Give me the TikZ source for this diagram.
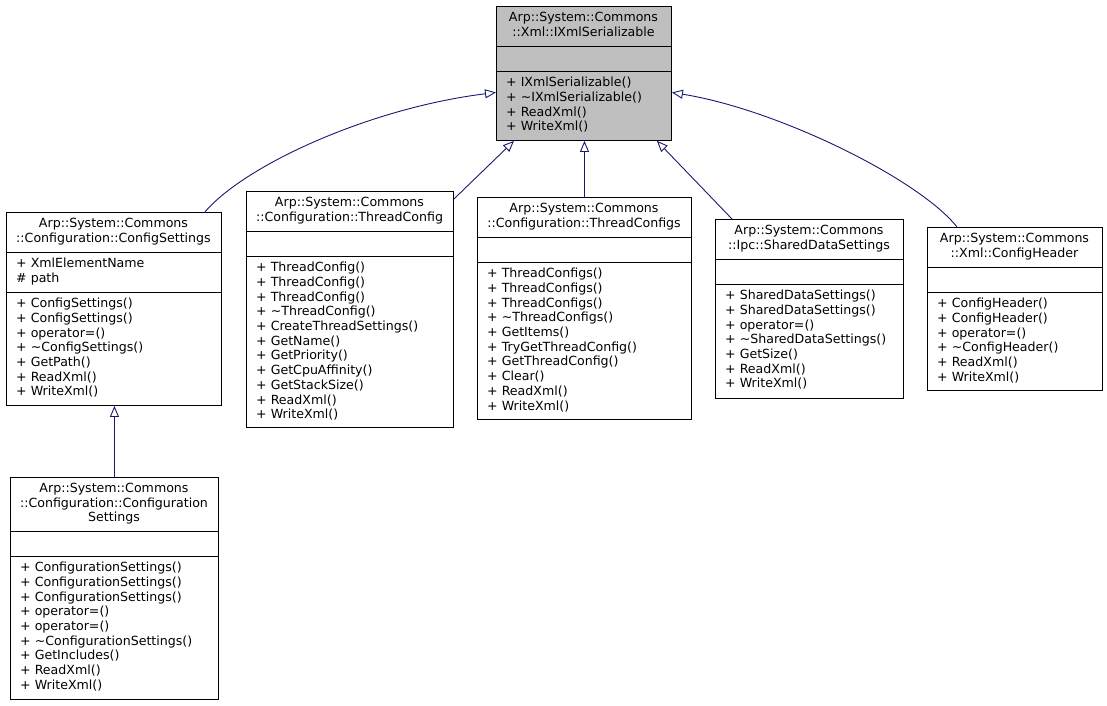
\documentclass[tikz,border=0pt]{standalone}
\usepackage{fontspec}
\setmainfont{DejaVu Sans}
\usetikzlibrary{arrows.meta}
\definecolor{edgeblue}{HTML}{191970}
\definecolor{basegray}{HTML}{BFBFBF}
\newcommand\umlfont{\fontsize{12.6}{14.7}\selectfont}

\begin{document}
\begin{tikzpicture}[x=1pt,y=-1pt,font=\umlfont,
    umlbox/.style={draw=black, line width=0.9pt, fill=white, inner sep=0pt, anchor=north west},
    sepline/.style={draw=black, line width=0.9pt},
    ttl/.style={anchor=north, inner sep=0pt, align=center},
    txt/.style={anchor=north west, inner sep=0pt, align=left},
    inherit/.style={draw=edgeblue, line width=0.9pt, -{Triangle[open, length=11pt, width=9pt]}}]
  \useasboundingbox (0,0) rectangle (1107,705);

  % Base class
  \node[umlbox, fill=basegray, minimum width=175, minimum height=134] (ix) at (496,6) {};
  \draw[sepline] (496,46) -- (671,46);
  \draw[sepline] (496,71) -- (671,71);
  \node[ttl] (ix-t) at (583.5,12) {Arp::System::Commons\\::Xml::IXmlSerializable};
  \node[txt] (ix-m) at (506,77) {+ IXmlSerializable()\\+ \textasciitilde IXmlSerializable()\\+ ReadXml()\\+ WriteXml()};

  % ConfigSettings
  \node[umlbox, minimum width=215, minimum height=193] (cfg) at (6,212) {};
  \draw[sepline] (6,252) -- (221,252);
  \draw[sepline] (6,292) -- (221,292);
  \node[ttl] (cfg-t) at (113.5,218) {Arp::System::Commons\\::Configuration::ConfigSettings};
  \node[txt] (cfg-a) at (16,258) {+ XmlElementName\\\# path};
  \node[txt] (cfg-m) at (16,298) {+ ConfigSettings()\\+ ConfigSettings()\\+ operator=()\\+ \textasciitilde ConfigSettings()\\+ GetPath()\\+ ReadXml()\\+ WriteXml()};

  % ThreadConfig
  \node[umlbox, minimum width=207, minimum height=236] (tc) at (246,191) {};
  \draw[sepline] (246,231) -- (453,231);
  \draw[sepline] (246,256) -- (453,256);
  \node[ttl] (tc-t) at (349.5,197) {Arp::System::Commons\\::Configuration::ThreadConfig};
  \node[txt] (tc-m) at (256,262) {+ ThreadConfig()\\+ ThreadConfig()\\+ ThreadConfig()\\+ \textasciitilde ThreadConfig()\\+ CreateThreadSettings()\\+ GetName()\\+ GetPriority()\\+ GetCpuAffinity()\\+ GetStackSize()\\+ ReadXml()\\+ WriteXml()};

  % ThreadConfigs
  \node[umlbox, minimum width=214, minimum height=222] (tcs) at (477,197) {};
  \draw[sepline] (477,237) -- (691,237);
  \draw[sepline] (477,262) -- (691,262);
  \node[ttl] (tcs-t) at (584,203) {Arp::System::Commons\\::Configuration::ThreadConfigs};
  \node[txt] (tcs-m) at (487,268) {+ ThreadConfigs()\\+ ThreadConfigs()\\+ ThreadConfigs()\\+ \textasciitilde ThreadConfigs()\\+ GetItems()\\+ TryGetThreadConfig()\\+ GetThreadConfig()\\+ Clear()\\+ ReadXml()\\+ WriteXml()};

  % SharedDataSettings
  \node[umlbox, minimum width=188, minimum height=179] (sds) at (715,219) {};
  \draw[sepline] (715,259) -- (903,259);
  \draw[sepline] (715,284) -- (903,284);
  \node[ttl] (sds-t) at (809,225) {Arp::System::Commons\\::Ipc::SharedDataSettings};
  \node[txt] (sds-m) at (725,290) {+ SharedDataSettings()\\+ SharedDataSettings()\\+ operator=()\\+ \textasciitilde SharedDataSettings()\\+ GetSize()\\+ ReadXml()\\+ WriteXml()};

  % ConfigHeader
  \node[umlbox, minimum width=175, minimum height=163] (ch) at (927,227) {};
  \draw[sepline] (927,267) -- (1102,267);
  \draw[sepline] (927,292) -- (1102,292);
  \node[ttl] (ch-t) at (1014.5,233) {Arp::System::Commons\\::Xml::ConfigHeader};
  \node[txt] (ch-m) at (937,298) {+ ConfigHeader()\\+ ConfigHeader()\\+ operator=()\\+ \textasciitilde ConfigHeader()\\+ ReadXml()\\+ WriteXml()};

  % ConfigurationSettings
  \node[umlbox, minimum width=208, minimum height=222] (cfgs) at (10,477) {};
  \draw[sepline] (10,531) -- (218,531);
  \draw[sepline] (10,556) -- (218,556);
  \node[ttl] (cfgs-t) at (114,483) {Arp::System::Commons\\::Configuration::Configuration\\Settings};
  \node[txt] (cfgs-m) at (20,562) {+ ConfigurationSettings()\\+ ConfigurationSettings()\\+ ConfigurationSettings()\\+ operator=()\\+ operator=()\\+ \textasciitilde ConfigurationSettings()\\+ GetIncludes()\\+ ReadXml()\\+ WriteXml()};

  % Inheritance
  \draw[inherit] ([xshift=-17]cfg.north east) .. controls (245,165) and (370,108) .. ([yshift=-19]ix.west);
  \draw[inherit] ([yshift=-8]tc.north east) -- ([xshift=18]ix.south west);
  \draw[inherit] (tcs.north) -- (tcs.north |- ix.south);
  \draw[inherit] ([xshift=17]sds.north west) -- ([xshift=-15]ix.south east);
  \draw[inherit] ([xshift=30]ch.north west) .. controls (920,180) and (780,110) .. ([yshift=-19]ix.east);
  \draw[inherit] (cfgs.north) -- (cfgs.north |- cfg.south);
\end{tikzpicture}
\end{document}
